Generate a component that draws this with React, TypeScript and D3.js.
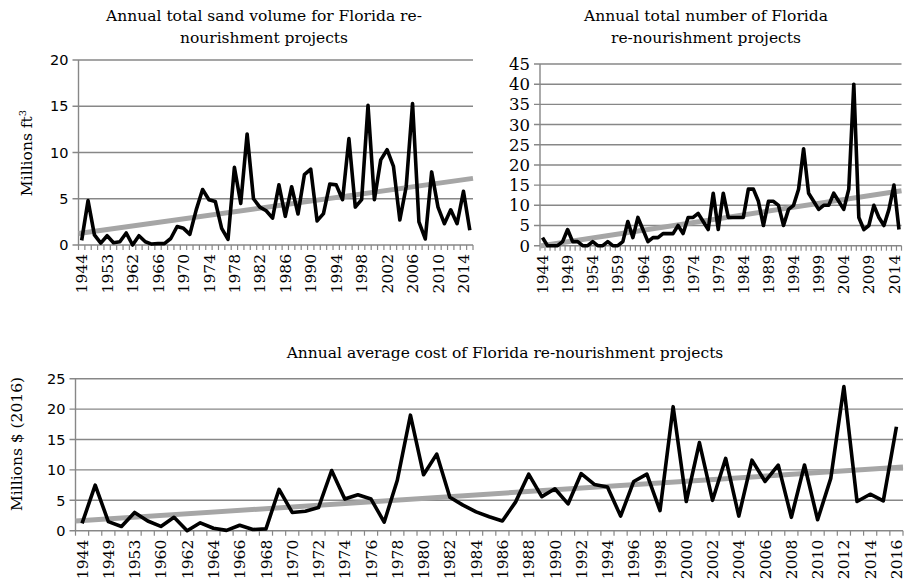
import React from 'react'
import * as d3 from 'd3'

// category labels (years) as they appear on each x axis
const sandYears = [1944, 1946, 1949, 1951, 1953, 1957, 1960, 1961].concat(d3.range(1962, 2016))
const projectYears = d3.range(1944, 2016)
const costYears = [1944, 1946, 1949, 1951, 1953, 1957].concat(d3.range(1960, 2017))

// Millions ft3
const sandVolume = [
  0.5, 4.8, 1.1, 0.2, 1.0, 0.25, 0.35, 1.3, 0, 1.0, 0.35, 0.1, 0.15, 0.15, 0.7, 2.0,
  1.8, 1.15, 3.8, 6.0, 4.9, 4.7, 1.8, 0.6, 8.4, 4.5, 12.0, 5.0, 4.1, 3.7, 2.9, 6.5,
  3.1, 6.3, 3.35, 7.6, 8.2, 2.6, 3.4, 6.6, 6.5, 4.9, 11.5, 4.1, 4.9, 15.1, 4.9, 9.2,
  10.3, 8.5, 2.7, 6.3, 15.3, 2.5, 0.65, 7.9, 4.1, 2.3, 3.8, 2.3, 5.8, 1.6,
]

// number of projects
const projectCount = [
  2, 0, 0, 0, 1, 4, 1, 1, 0, 0, 1, 0, 0, 1, 0, 0, 1, 6, 2, 7, 4, 1, 2, 2, 3, 3, 3, 5,
  3, 7, 7, 8, 6, 4, 13, 4, 13, 7, 7, 7, 7, 14, 14, 11, 5, 11, 11, 10, 5, 9, 10, 14,
  24, 13, 11, 9, 10, 10, 13, 11, 9, 14, 40, 7, 4, 5, 10, 7, 5, 9, 15, 4,
]

// Millions $ (2016)
const costValues = [
  1.2, 7.5, 1.5, 0.7, 3.0, 1.6, 0.7, 2.2, 0, 1.3, 0.4, 0.05, 0.9, 0.2, 0.3, 6.8,
  3.0, 3.2, 3.8, 9.9, 5.2, 5.9, 5.2, 1.4, 8.3, 19.0, 9.2, 12.6, 5.5, 4.2, 3.1, 2.3,
  1.6, 4.7, 9.3, 5.6, 6.9, 4.4, 9.4, 7.6, 7.2, 2.4, 8.1, 9.3, 3.3, 20.4, 4.8, 14.5,
  5.0, 11.9, 2.4, 11.6, 8.1, 10.8, 2.2, 10.8, 1.8, 8.6, 23.7, 4.8, 6.0, 4.9, 17.1,
]

const sandTicks = [0, 5, 10, 15, 20]
const projectTicks = [0, 5, 10, 15, 20, 25, 30, 35, 40, 45]
const costTicks = [0, 5, 10, 15, 20, 25]

const SERIF = '"DejaVu Serif", serif'
const SANS = '"DejaVu Sans", sans-serif'
const GRID = '#878787'

type PanelProps = {
  years: number[]
  values: number[]
  ticks: number[]
  left: number
  right: number
  top: number
  bottom: number
  labelEvery: number
  yFont: string
  yFontSize: number
}

// least squares line over the category index, like an Excel linear trendline
function trend(values: number[]) {
  const n = values.length
  const mx = d3.mean(d3.range(n)) as number
  const my = d3.mean(values) as number
  let sxy = 0, sxx = 0
  values.forEach((v, i) => { sxy += (i - mx) * (v - my); sxx += (i - mx) * (i - mx) })
  const b = sxy / sxx
  return (i: number) => my + b * (i - mx)
}

function Panel(p: PanelProps) {
  const n = p.values.length
  const x = d3.scaleBand<number>().domain(d3.range(n)).range([p.left, p.right])
  const bw = x.bandwidth()
  const y = d3.scaleLinear().domain([0, d3.max(p.ticks) as number]).range([p.bottom, p.top])
  const cx = (i: number) => (x(i) as number) + bw / 2
  const line = d3.line<number>().x((d, i) => cx(i)).y(d => y(d))
  const fit = trend(p.values)
  const tline = d3.line<number>().x(i => p.left + (i + 0.5) * bw).y(i => y(fit(i)))

  return (
    <g>
      {p.ticks.map(t => (
        <g key={t}>
          <line x1={p.left - 6} x2={p.right} y1={y(t)} y2={y(t)} stroke={GRID} strokeWidth={1.4} />
          <text x={p.left - 10} y={y(t)} dy="0.36em" textAnchor="end"
            fontFamily={p.yFont} fontSize={p.yFontSize} fill="#000">{t}</text>
        </g>
      ))}
      <line x1={p.left} x2={p.left} y1={p.top} y2={p.bottom} stroke={GRID} strokeWidth={1.4} />
      {d3.range(n + 1).map(i => (
        <line key={i} x1={p.left + i * bw} x2={p.left + i * bw} y1={p.bottom} y2={p.bottom + 5}
          stroke={GRID} strokeWidth={1.2} />
      ))}
      {p.years.map((yr, i) => i % p.labelEvery === 0 ? (
        <text key={i} transform={`translate(${cx(i)},${p.bottom + 9}) rotate(-90)`} dy="0.36em"
          textAnchor="end" fontFamily={SERIF} fontSize={15.5} fill="#000">{yr}</text>
      ) : null)}
      <path d={tline([-0.5, n - 0.5]) as string} fill="none" stroke="#a6a6a6" strokeWidth={5} />
      <path d={line(p.values) as string} fill="none" stroke="#000" strokeWidth={3.6}
        strokeLinejoin="round" />
    </g>
  )
}

export default function App() {
  return (
    <svg width={908} height={585} viewBox="0 0 908 585"
      style={{ position: 'absolute', left: 0, top: 0, background: '#fff' }}>
      <g fontFamily={SERIF} fontSize={15.5} textAnchor="middle">
        <text x={264} y={21}>Annual total sand volume for Florida re-</text>
        <text x={264} y={43}>nourishment projects</text>
        <text x={706} y={21}>Annual total number of Florida</text>
        <text x={706} y={43}>re-nourishment projects</text>
        <text x={505} y={358}>Annual average cost of Florida re-nourishment projects</text>
      </g>
      <text transform="translate(32,153) rotate(-90)" textAnchor="middle" fontFamily={SERIF} fontSize={15.5}>
        Millions ft<tspan dy="-6" fontSize={10}>3</tspan>
      </text>
      <text transform="translate(22,444) rotate(-90)" textAnchor="middle" fontFamily={SERIF} fontSize={15.5}>
        Millions $ (2016)
      </text>
      <Panel years={sandYears} values={sandVolume} ticks={sandTicks}
        left={78.5} right={473} top={60} bottom={245} labelEvery={4} yFont={SANS} yFontSize={14.5} />
      <Panel years={projectYears} values={projectCount} ticks={projectTicks}
        left={540} right={901.5} top={64} bottom={245.7} labelEvery={5} yFont={SERIF} yFontSize={16.5} />
      <Panel years={costYears} values={costValues} ticks={costTicks}
        left={75.5} right={903} top={378.7} bottom={530.7} labelEvery={2} yFont={SANS} yFontSize={14.5} />
    </svg>
  )
}
